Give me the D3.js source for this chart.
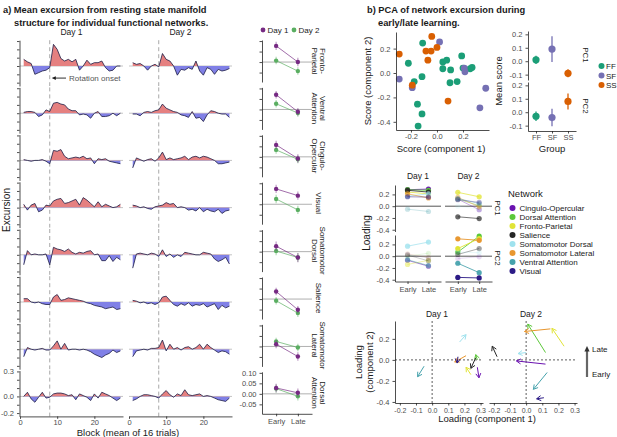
<!DOCTYPE html>
<html>
<head>
<meta charset="utf-8">
<script src="https://cdn.jsdelivr.net/npm/d3@7"></script>
<style>
  body { margin: 0; background: #fff; }
  svg { font-family: "Liberation Sans", Arial, sans-serif; }
</style>
</head>
<body>
<svg id="chart" width="617" height="437"></svg>
<script>
// ---------- panel a data ----------
const days = ['Day 1', 'Day 2']
const networks = ['Fronto-Parietal', 'Ventral Attention', 'Cingulo-Opercular', 'Visual',
  'Somatomotor Dorsal', 'Salience', 'Somatomotor Lateral', 'Dorsal Attention']
const onsetBlock = 8

// excursion per block (27 blocks per day)
const fpDay1 = [0.08,0.05,0.03,-0.10,-0.08,-0.06,-0.05,-0.02,0.26,0.20,0.09,0.06,0.08,0.05,0.08,-0.05,0.00,0.07,0.02,0.04,0.04,0.06,-0.02,-0.06,-0.05,0.00,0.00]
const fpDay2 = [0.04,0.02,0.03,0.00,-0.05,0.00,0.02,-0.01,0.15,0.08,0.06,0.00,-0.11,-0.04,-0.05,-0.02,-0.04,0.06,-0.06,-0.11,-0.02,-0.04,-0.10,-0.04,-0.06,-0.05,-0.03]
const vaDay1 = [0.01,0.02,0.02,0.01,-0.04,-0.02,0.04,0.02,0.12,0.13,0.11,0.10,0.05,0.03,0.03,-0.02,-0.01,-0.02,-0.06,0.00,0.02,-0.04,-0.04,-0.03,0.00,-0.03,0.00]
const vaDay2 = [-0.01,-0.01,-0.03,0.01,0.02,0.01,0.03,0.04,0.11,0.06,0.04,0.02,0.01,-0.02,-0.03,-0.05,0.02,-0.06,-0.05,-0.10,-0.02,0.03,0.02,0.00,-0.01,-0.01,-0.05]
const coDay1 = [0.01,0.00,-0.01,0.00,0.00,0.01,-0.01,-0.04,0.12,0.11,0.13,0.05,0.02,0.03,0.04,0.03,0.05,0.02,0.03,-0.04,0.02,0.01,0.02,-0.01,-0.02,-0.03,-0.04]
const coDay2 = [-0.09,0.03,0.01,-0.01,0.01,0.02,-0.01,0.03,0.10,0.01,0.03,0.01,0.02,0.03,0.05,0.01,0.04,0.05,0.03,0.05,0.04,0.02,0.00,-0.04,-0.04,-0.03,-0.02]
const visDay1 = [0.04,-0.03,0.03,0.05,-0.05,-0.03,0.03,0.02,0.08,0.10,0.11,0.05,0.06,0.08,0.10,0.03,0.12,0.09,0.05,0.01,0.07,0.01,0.04,0.02,0.00,0.01,0.04]
const visDay2 = [0.03,0.02,0.00,0.01,-0.01,-0.02,0.01,0.02,0.03,0.06,0.04,0.05,0.00,0.01,0.00,-0.03,-0.02,-0.04,0.00,-0.05,-0.02,-0.04,-0.05,-0.02,-0.07,-0.04,-0.03]
const smdDay1 = [-0.12,0.05,0.00,0.01,0.00,0.00,0.01,-0.12,0.09,0.07,0.06,0.04,0.07,0.03,0.01,0.03,0.02,0.04,0.05,0.00,0.01,-0.07,-0.07,-0.01,-0.08,-0.03,-0.06]
const smdDay2 = [-0.16,0.01,0.02,0.01,0.00,0.02,0.01,-0.02,0.06,-0.02,0.01,-0.03,0.00,-0.02,0.03,0.02,0.01,0.00,0.00,0.03,0.02,0.01,-0.05,-0.08,-0.06,-0.03,-0.11]
const salDay1 = [0.04,0.04,0.00,-0.01,0.00,-0.02,-0.03,-0.03,0.06,0.09,0.02,0.03,0.05,0.04,0.03,0.02,0.01,-0.01,-0.02,-0.04,-0.05,-0.06,-0.08,-0.07,-0.06,-0.09,-0.08]
const salDay2 = [0.02,0.01,-0.01,0.00,-0.02,-0.01,-0.03,-0.01,0.06,0.07,0.02,-0.03,-0.05,-0.02,-0.04,-0.01,-0.05,-0.03,-0.04,-0.02,-0.06,-0.04,-0.02,-0.09,-0.04,-0.07,-0.05]
const smlDay1 = [-0.09,0.02,0.00,-0.01,0.00,0.01,-0.01,-0.01,0.04,0.10,0.00,0.07,-0.01,0.00,0.00,-0.01,0.00,-0.01,-0.03,-0.06,-0.08,-0.10,-0.07,-0.05,-0.01,-0.04,-0.02]
const smlDay2 = [-0.09,-0.02,-0.01,0.00,-0.01,0.01,0.01,0.02,0.11,-0.02,0.06,0.00,0.02,-0.01,0.02,0.03,0.00,0.02,0.06,0.00,0.06,0.02,-0.01,-0.04,-0.02,-0.03,-0.06]
const daDay1 = [0.00,0.05,-0.03,-0.07,-0.01,0.05,-0.02,-0.01,0.03,0.04,0.04,0.03,0.01,0.02,-0.04,0.03,0.01,-0.01,-0.05,0.03,-0.02,0.05,0.03,0.01,-0.02,-0.05,-0.02]
const daDay2 = [-0.05,-0.03,0.00,0.02,0.02,0.01,0.00,-0.02,0.03,0.07,0.02,-0.01,0.03,0.01,0.08,0.02,0.01,0.02,0.03,0.00,0.01,0.00,-0.02,-0.04,-0.05,-0.06,-0.02]

const excursion = {
  'Fronto-Parietal': [fpDay1, fpDay2],
  'Ventral Attention': [vaDay1, vaDay2],
  'Cingulo-Opercular': [coDay1, coDay2],
  'Visual': [visDay1, visDay2],
  'Somatomotor Dorsal': [smdDay1, smdDay2],
  'Salience': [salDay1, salDay2],
  'Somatomotor Lateral': [smlDay1, smlDay2],
  'Dorsal Attention': [daDay1, daDay2],
}

// early / late means (row order = networks)
const phases = ['Early', 'Late']
const day1Early = [0.077, 0.070, 0.057, 0.073, 0.026, 0.036, 0.011, 0.028]
const day1Late = [0.000, -0.011, -0.008, 0.041, -0.028, -0.051, -0.048, 0.005]
const day2Early = [0.007, 0.027, 0.033, 0.025, 0.003, -0.008, 0.024, 0.025]
const day2Late = [-0.043, -0.017, -0.012, -0.027, -0.028, -0.067, -0.005, -0.012]
const day1Err = [0.020, 0.018, 0.020, 0.020, 0.022, 0.018, 0.020, 0.020]
const day2Err = [0.018, 0.018, 0.018, 0.020, 0.020, 0.018, 0.018, 0.020]

// ---------- panel b data ----------
const groups = ['FF', 'SF', 'SS']
const scoreGroup = ['FF','FF','FF','FF','FF','FF','FF','FF','FF','FF','FF','FF','FF','FF','FF','FF','FF',
  'SF','SF','SF','SF','SF','SF','SF',
  'SS','SS','SS','SS','SS','SS','SS','SS']
const scoreC1 = [-0.11,-0.22,-0.175,-0.115,-0.15,-0.115,-0.145,0.045,0.075,0.045,0.105,0.19,0.20,0.255,0.27,0.155,0.10,
  -0.29,0.02,-0.19,0.21,0.215,0.375,0.33,
  -0.29,-0.04,-0.085,-0.045,-0.07,0.00,-0.19,0.085]
const scoreC2 = [0.245,0.08,-0.07,-0.03,-0.255,-0.335,-0.435,0.09,0.105,0.035,0.025,0.14,0.04,0.035,0.045,-0.07,-0.08,
  -0.05,0.255,-0.12,0.04,0.01,-0.125,-0.285,
  0.155,0.30,0.18,0.18,0.105,0.21,-0.10,-0.23]

const pcs = ['PC1', 'PC2']
const pc1Mean = [0.01, 0.09, -0.09]
const pc1Err = [0.03, 0.095, 0.03]
const pc2Mean = [-0.03, -0.04, 0.08]
const pc2Err = [0.035, 0.065, 0.06]

// loadings, legend order
const legendNetworks = ['Cingulo-Opercular', 'Dorsal Attention', 'Fronto-Parietal', 'Salience',
  'Somatomotor Dorsal', 'Somatomotor Lateral', 'Ventral Attention', 'Visual']
const d1Pc1Early = [0.28, 0.28, 0.24, 0.27, 0.17, 0.21, -0.05, 0.16]
const d1Pc1Late = [0.29, 0.27, 0.21, 0.24, 0.21, 0.14, -0.09, 0.155]
const d1Pc2Early = [-0.07, 0.00, -0.14, 0.02, 0.17, 0.04, -0.06, 0.03]
const d1Pc2Late = [-0.17, 0.05, -0.07, -0.08, 0.24, -0.02, -0.16, -0.03]
const d2Pc1Early = [0.12, 0.12, 0.235, -0.18, 0.00, 0.15, 0.13, 0.11]
const d2Pc1Late = [-0.06, 0.01, 0.16, -0.21, -0.05, -0.01, 0.045, 0.065]
const d2Pc2Early = [-0.04, 0.07, 0.13, 0.03, 0.07, 0.295, -0.12, -0.36]
const d2Pc2Late = [-0.01, 0.34, 0.30, 0.13, 0.06, 0.27, -0.28, -0.37]

// ---------- styling ----------
const svg = d3.select('#chart')
const defs = svg.append('defs')
const tickGray = '#4d4d4d'
const ink = '#1a1a1a'
const dayColor = ['#762a83', '#5aae61']
const groupColor = d3.scaleOrdinal(groups, ['#1b9e77', '#7570b3', '#d95f02'])
const netColor = d3.scaleOrdinal(legendNetworks,
  ['#6a12b0', '#5cc83a', '#e1e436', '#262626', '#9fe2ee', '#e8962e', '#45a2ac', '#2c1b86'])
const fmt1 = d => d3.format('.1f')(d).replace('\u2212', '-')
const fmt2 = d => d3.format('.2f')(d).replace('\u2212', '-')

function styleAxis(g, size = 7.5) {
  g.attr('font-family', null).attr('font-size', size)
  g.select('.domain').attr('stroke', '#222').attr('stroke-width', 0.8)
  g.selectAll('.tick line').attr('stroke', '#222').attr('stroke-width', 0.8)
  g.selectAll('.tick text').attr('fill', tickGray)
}

function text(x, y, s, opts = {}) {
  return svg.append('text')
    .attr('x', x).attr('y', y)
    .attr('text-anchor', opts.anchor || 'middle')
    .attr('font-size', opts.size || 9)
    .attr('font-weight', opts.weight || null)
    .attr('fill', opts.fill || ink)
    .text(s)
}

// rotated strip label, reading top to bottom
function strip(x, y, lines, size = 8) {
  const g = svg.append('g').attr('transform', `translate(${x},${y}) rotate(90)`)
  lines.forEach((l, k) => {
    g.append('text')
      .attr('x', 0).attr('y', (k - (lines.length - 1) / 2) * size * 1.1)
      .attr('text-anchor', 'middle').attr('dominant-baseline', 'central')
      .attr('font-size', size).attr('fill', ink).text(l)
  })
}

function vtitle(x, y, s, size = 9.5) {
  svg.append('text').attr('transform', `translate(${x},${y}) rotate(-90)`)
    .attr('text-anchor', 'middle').attr('font-size', size).attr('fill', ink).text(s)
}

function wrapLabel(name) {
  const k = name.indexOf('-')
  if (k > 0) return [name.slice(0, k + 1), name.slice(k + 1)]
  return name.split(' ')
}

function openHead(g, x1, y1, x2, y2, color, len = 5) {
  const a = Math.atan2(y2 - y1, x2 - x1)
  const p1 = [x2 - len * Math.cos(a - Math.PI / 6), y2 - len * Math.sin(a - Math.PI / 6)]
  const p2 = [x2 - len * Math.cos(a + Math.PI / 6), y2 - len * Math.sin(a + Math.PI / 6)]
  g.append('path').attr('d', `M${p1}L${x2},${y2}L${p2}`)
    .attr('fill', 'none').attr('stroke', color).attr('stroke-width', 1)
}

function closedHead(g, x1, y1, x2, y2, color, len = 5) {
  const a = Math.atan2(y2 - y1, x2 - x1)
  const p1 = [x2 - len * Math.cos(a - Math.PI / 7), y2 - len * Math.sin(a - Math.PI / 7)]
  const p2 = [x2 - len * Math.cos(a + Math.PI / 7), y2 - len * Math.sin(a + Math.PI / 7)]
  g.append('path').attr('d', `M${p1}L${x2},${y2}L${p2}Z`).attr('fill', color)
}

// ================= panel a =================
text(3, 13, 'a) Mean excursion from resting state manifold', { anchor: 'start', size: 9.3, weight: 'bold' })
text(14, 26, 'structure for individual functional networks.', { anchor: 'start', size: 9.3, weight: 'bold' })

const excX = [
  d3.scaleLinear().domain([0, 27.7]).range([20, 123]),
  d3.scaleLinear().domain([0, 27.7]).range([129, 232]),
]
const rowTop = i => 40.2 + i * 47.2
const excYTicks = [-0.2, -0.1, 0, 0.1, 0.2, 0.3]
const excYLabels = [-0.2, 0, 0.3]

days.forEach((d, j) => text(d3.mean(excX[j].range()), 35, d, { size: 8.5 }))

networks.forEach((net, i) => {
  const top = rowTop(i)
  const bottom = top + 45.8
  const y = d3.scaleLinear().domain([-0.24, 0.31]).range([bottom, top])

  excursion[net].forEach((vals, j) => {
    const x = excX[j]
    const [x0, x1] = x.range()
    const id = `r${i}d${j}`
    defs.append('clipPath').attr('id', id + 'up').append('rect')
      .attr('x', x0).attr('y', top - 5).attr('width', x1 - x0).attr('height', y(0) - top + 5)
    defs.append('clipPath').attr('id', id + 'dn').append('rect')
      .attr('x', x0).attr('y', y(0)).attr('width', x1 - x0).attr('height', bottom - y(0) + 5)

    const g = svg.append('g')
    g.append('line').attr('x1', x0).attr('x2', x1).attr('y1', y(0)).attr('y2', y(0))
      .attr('stroke', '#c4c4c4').attr('stroke-width', 1)
    g.append('line').attr('x1', x(onsetBlock)).attr('x2', x(onsetBlock)).attr('y1', top).attr('y2', bottom)
      .attr('stroke', '#a8a8a8').attr('stroke-width', 1).attr('stroke-dasharray', '4,3')

    const area = d3.area().x((v, k) => x(k + 1)).y0(y(0)).y1(v => y(v))
    g.append('path').datum(vals).attr('d', area).attr('fill', '#e58080').attr('clip-path', `url(#${id}up)`)
    g.append('path').datum(vals).attr('d', area).attr('fill', '#8080e6').attr('clip-path', `url(#${id}dn)`)
    g.append('path').datum(vals)
      .attr('d', d3.line().x((v, k) => x(k + 1)).y(v => y(v)))
      .attr('fill', 'none').attr('stroke', '#1c1c44').attr('stroke-width', 0.8)
  })

  const last = i === networks.length - 1
  svg.append('g').attr('transform', 'translate(19.5,0)')
    .call(d3.axisLeft(y).tickValues(excYTicks).tickSize(2.5).tickSizeOuter(0)
      .tickFormat(v => last && excYLabels.includes(v) ? fmt1(v) : ''))
    .call(styleAxis)

  if (last) {
    excX.forEach(x => {
      svg.append('g').attr('transform', `translate(0,${bottom})`)
        .call(d3.axisBottom(x).tickValues([0, 10, 20]).tickSize(2.5).tickPadding(1).tickSizeOuter(0).tickFormat(d3.format('d')))
        .call(styleAxis)
    })
  }

  if (i === 0) {
    // rotation onset annotation
    const ay = y(-0.145)
    const ga = svg.append('g')
    ga.append('line').attr('x1', 66).attr('x2', excX[0](onsetBlock) + 5).attr('y1', ay).attr('y2', ay)
      .attr('stroke', ink).attr('stroke-width', 0.9)
    closedHead(ga, 66, ay, excX[0](onsetBlock) + 2, ay, ink, 4.5)
    text(69, ay + 3, 'Rotation onset', { anchor: 'start', size: 8, fill: '#555' })
  }
})

vtitle(10, 210, 'Excursion', 10)
text(128, 435.5, 'Block (mean of 16 trials)', { size: 9.5 })

// early / late panels
const elX = d3.scalePoint().domain(phases).range([262, 312]).padding(0.65)
const smallTop = i => 40 + i * 47.4
const elYTicks = [-0.05, 0, 0.05, 0.1]
const early = [day1Early, day2Early]
const late = [day1Late, day2Late]
const errs = [day1Err, day2Err]

networks.forEach((net, i) => {
  const top = smallTop(i)
  const y = d3.scaleLinear().domain([-0.095, 0.105]).range([top + 42, top])
  const g = svg.append('g')
  g.append('line').attr('x1', 262).attr('x2', 312).attr('y1', y(0)).attr('y2', y(0))
    .attr('stroke', '#b0b0b0').attr('stroke-width', 1)

  ;[1, 0].forEach(j => {
    const pts = [[elX('Early'), early[j][i]], [elX('Late'), late[j][i]]]
    g.append('line').attr('x1', pts[0][0]).attr('y1', y(pts[0][1])).attr('x2', pts[1][0]).attr('y2', y(pts[1][1]))
      .attr('stroke', dayColor[j]).attr('stroke-width', 0.8).attr('opacity', 0.85)
    pts.forEach(([px, v]) => {
      g.append('line').attr('x1', px).attr('x2', px)
        .attr('y1', y(v - errs[j][i])).attr('y2', y(v + errs[j][i]))
        .attr('stroke', dayColor[j]).attr('stroke-width', 1.2).attr('opacity', 0.45)
      g.append('circle').attr('cx', px).attr('cy', y(v)).attr('r', 2.2).attr('fill', dayColor[j])
    })
  })

  const last = i === networks.length - 1
  svg.append('g').attr('transform', 'translate(262,0)')
    .call(d3.axisLeft(y).tickValues(elYTicks).tickSize(2.5).tickSizeOuter(0)
      .tickFormat(v => last ? fmt2(v) : ''))
    .call(styleAxis)
  if (last) {
    svg.append('g').attr('transform', `translate(0,${top + 42})`)
      .call(d3.axisBottom(elX).tickSize(2.5).tickPadding(2).tickSizeOuter(0))
      .call(styleAxis)
  }
  strip(318.5, top + 21, wrapLabel(net), 8)
})

// Day legend
days.forEach((d, j) => {
  const lx = 263 + j * 31
  svg.append('circle').attr('cx', lx).attr('cy', 30).attr('r', 2.4).attr('fill', dayColor[j])
  text(lx + 4.5, 33, d, { anchor: 'start', size: 8 })
})

// ================= panel b =================
text(367, 13, 'b) PCA of network excursion during', { anchor: 'start', size: 9.3, weight: 'bold' })
text(378, 26, 'early/late learning.', { anchor: 'start', size: 9.3, weight: 'bold' })

// scatter of scores
const sx = d3.scaleLinear().domain([-0.315, 0.4]).range([396, 489])
const sy = d3.scaleLinear().domain([-0.467, 0.336]).range([130, 32])
svg.append('g').selectAll('circle').data(scoreC1).join('circle')
  .attr('cx', d => sx(d)).attr('cy', (d, k) => sy(scoreC2[k])).attr('r', 3.4)
  .attr('fill', (d, k) => groupColor(scoreGroup[k]))
svg.append('g').attr('transform', 'translate(0,130)')
  .call(d3.axisBottom(sx).tickValues([-0.2, 0, 0.2]).tickSize(2.5).tickPadding(1.5).tickSizeOuter(0).tickFormat(fmt1))
  .call(styleAxis)
svg.append('g').attr('transform', 'translate(396,0)')
  .call(d3.axisLeft(sy).tickValues([-0.4, -0.2, 0, 0.2]).tickSize(2.5).tickSizeOuter(0).tickFormat(fmt1))
  .call(styleAxis)
text(441, 151.5, 'Score (component 1)', { size: 9.5 })
vtitle(371, 81, 'Score (component 2)')

// mean score per group
const mx = d3.scalePoint().domain(groups).range([528, 576]).padding(0.5)
const means = [pc1Mean, pc2Mean]
const meanErrs = [pc1Err, pc2Err]
pcs.forEach((pc, p) => {
  const top = p === 0 ? 31 : 82
  const y = d3.scaleLinear().domain([-0.14, 0.225]).range([top + 49, top])
  const g = svg.append('g')
  groups.forEach((grp, k) => {
    const v = means[p][k], e = meanErrs[p][k]
    g.append('line').attr('x1', mx(grp)).attr('x2', mx(grp)).attr('y1', y(v - e)).attr('y2', y(v + e))
      .attr('stroke', groupColor(grp)).attr('stroke-width', 1.3)
    g.append('circle').attr('cx', mx(grp)).attr('cy', y(v)).attr('r', 3.6).attr('fill', groupColor(grp))
  })
  svg.append('g').attr('transform', 'translate(528,0)')
    .call(d3.axisLeft(y).tickValues([-0.1, 0, 0.1, 0.2]).tickSize(2.5).tickSizeOuter(0).tickFormat(fmt1))
    .call(styleAxis)
  if (p === 1) {
    svg.append('g').attr('transform', `translate(0,${top + 49})`)
      .call(d3.axisBottom(mx).tickSize(2.5).tickPadding(1.5).tickSizeOuter(0))
      .call(styleAxis)
  }
  strip(585, top + 24, [pc], 8)
})
vtitle(502, 81, 'Mean score')
text(552, 151.5, 'Group', { size: 9.5 })
groups.forEach((grp, k) => {
  svg.append('circle').attr('cx', 601.5).attr('cy', 66 + k * 9.5).attr('r', 3).attr('fill', groupColor(grp))
  text(606, 69 + k * 9.5, grp, { anchor: 'start', size: 8 })
})

// loadings early / late
const loadX = [
  d3.scalePoint().domain(phases).range([395, 441]).padding(0.6),
  d3.scalePoint().domain(phases).range([445, 492]).padding(0.6),
]
const loadEarly = [[d1Pc1Early, d1Pc2Early], [d2Pc1Early, d2Pc2Early]]
const loadLate = [[d1Pc1Late, d1Pc2Late], [d2Pc1Late, d2Pc2Late]]
const alpha = d3.scaleLinear().domain([0.05, 0.3]).range([0.15, 1]).clamp(true)
days.forEach((d, j) => text(d3.mean(loadX[j].range()), 179, d, { size: 8.5 }))

pcs.forEach((pc, p) => {
  const top = p === 0 ? 185 : 235
  const y = d3.scaleLinear().domain([-0.43, 0.36]).range([top + 46.5, top])
  loadX.forEach((x, j) => {
    const g = svg.append('g')
    g.append('line').attr('x1', x.range()[0]).attr('x2', x.range()[1]).attr('y1', y(0)).attr('y2', y(0))
      .attr('stroke', '#555').attr('stroke-width', 1)
    legendNetworks.forEach((net, k) => {
      const e = loadEarly[j][p][k], l = loadLate[j][p][k]
      const a = alpha(Math.max(Math.abs(e), Math.abs(l)))
      g.append('line').attr('x1', x('Early')).attr('y1', y(e)).attr('x2', x('Late')).attr('y2', y(l))
        .attr('stroke', netColor(net)).attr('stroke-width', 0.9).attr('opacity', a)
      ;[[x('Early'), e], [x('Late'), l]].forEach(([px, v]) => {
        g.append('circle').attr('cx', px).attr('cy', y(v)).attr('r', 2.6)
          .attr('fill', netColor(net)).attr('opacity', a)
      })
    })
    if (p === 1) {
      svg.append('g').attr('transform', `translate(0,${top + 46.5})`)
        .call(d3.axisBottom(x).tickSize(2.5).tickSizeOuter(0))
        .call(styleAxis)
    }
  })
  svg.append('g').attr('transform', 'translate(395,0)')
    .call(d3.axisLeft(y).tickValues([-0.4, -0.2, 0, 0.2]).tickSize(2.5).tickSizeOuter(0).tickFormat(fmt1))
    .call(styleAxis)
  strip(497, top + 23, [pc], 8)
})
vtitle(370, 233, 'Loading', 10)

// network legend
text(508, 197, 'Network', { anchor: 'start', size: 9.5 })
legendNetworks.forEach((net, k) => {
  svg.append('circle').attr('cx', 512.5).attr('cy', 208 + k * 9).attr('r', 3).attr('fill', netColor(net))
  text(519.5, 211 + k * 9, net, { anchor: 'start', size: 8 })
})

// loading arrows: component 1 vs component 2, early -> late
const arrX = [
  d3.scaleLinear().domain([-0.23, 0.315]).range([395, 483]),
  d3.scaleLinear().domain([-0.23, 0.315]).range([489, 577]),
]
const arrY = d3.scaleLinear().domain([-0.41, 0.37]).range([403, 321])
days.forEach((d, j) => {
  const x = arrX[j]
  const g = svg.append('g')
  g.append('line').attr('x1', x(0)).attr('x2', x(0)).attr('y1', 321).attr('y2', 403)
    .attr('stroke', '#333').attr('stroke-width', 0.8).attr('stroke-dasharray', '2,2')
  g.append('line').attr('x1', x.range()[0]).attr('x2', x.range()[1]).attr('y1', arrY(0)).attr('y2', arrY(0))
    .attr('stroke', '#333').attr('stroke-width', 0.8).attr('stroke-dasharray', '2,2')
  legendNetworks.forEach((net, k) => {
    const x1 = x(loadEarly[j][0][k]), y1 = arrY(loadEarly[j][1][k])
    const x2 = x(loadLate[j][0][k]), y2 = arrY(loadLate[j][1][k])
    g.append('line').attr('x1', x1).attr('y1', y1).attr('x2', x2).attr('y2', y2)
      .attr('stroke', netColor(net)).attr('stroke-width', 1)
    openHead(g, x1, y1, x2, y2, netColor(net), 5)
  })
  svg.append('g').attr('transform', 'translate(0,403)')
    .call(d3.axisBottom(x).tickValues([-0.2, -0.1, 0, 0.1, 0.2, 0.3]).tickSize(2.5).tickSizeOuter(0).tickFormat(fmt1))
    .call(g2 => styleAxis(g2, 7))
  text(d3.mean(x.range()) - 2, 317, d, { size: 8.5 })
})
svg.append('g').attr('transform', 'translate(395,0)')
  .call(d3.axisLeft(arrY).tickValues([-0.4, -0.2, 0, 0.2]).tickSize(2.5).tickSizeOuter(0).tickFormat(fmt1))
  .call(styleAxis)
text(487, 422, 'Loading (component 1)', { size: 9.5 })
svg.append('text').attr('transform', 'translate(362,362) rotate(-90)')
  .attr('text-anchor', 'middle').attr('font-size', 9.5).attr('fill', ink).text('Loading')
svg.append('text').attr('transform', 'translate(373,362) rotate(-90)')
  .attr('text-anchor', 'middle').attr('font-size', 9.5).attr('fill', ink).text('(component 2)')

// early -> late key
const key = svg.append('g')
key.append('line').attr('x1', 587).attr('x2', 587).attr('y1', 377).attr('y2', 350)
  .attr('stroke', '#666').attr('stroke-width', 2.2)
closedHead(key, 587, 377, 587, 346, '#333', 6)
text(592, 352, 'Late', { anchor: 'start', size: 8 })
text(592, 377, 'Early', { anchor: 'start', size: 8 })
</script>
</body>
</html>
